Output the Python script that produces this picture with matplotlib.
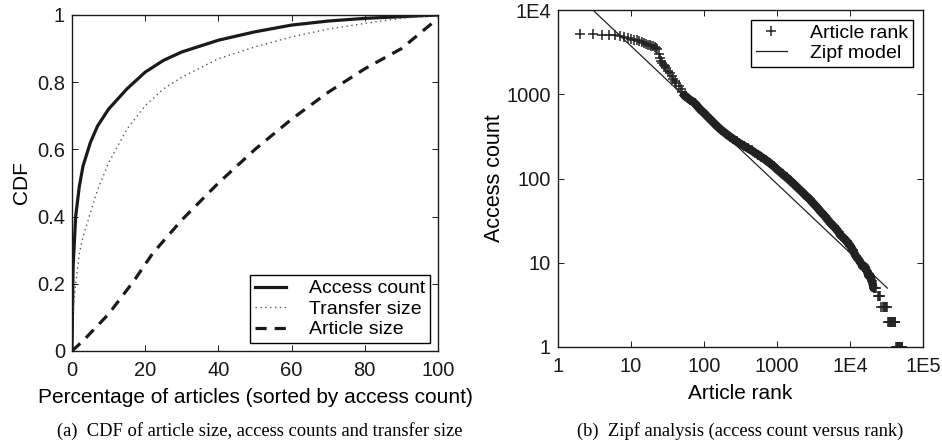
import matplotlib.pyplot as plt
import matplotlib.ticker as mticker

plt.rcParams['font.family'] = ['Liberation Sans', 'DejaVu Sans']

# --- panel (a): CDF curves ---
pct = [0, 0.3, 1, 2, 3, 5, 7, 10, 15, 20, 25, 30, 40, 50, 60, 70, 80, 90, 100]
access_cdf = [0, 0.25, 0.40, 0.49, 0.55, 0.62, 0.67, 0.72, 0.78, 0.83, 0.865, 0.89, 0.925, 0.95, 0.97, 0.982, 0.99, 0.995, 1.0]
transfer_cdf = [0, 0.12, 0.20, 0.29, 0.34, 0.41, 0.48, 0.56, 0.66, 0.73, 0.78, 0.815, 0.87, 0.905, 0.935, 0.958, 0.975, 0.99, 1.0]
article_pct = [0, 3, 10, 17, 22, 30, 40, 50, 60, 70, 80, 90, 100]
article_cdf = [0, 0.03, 0.11, 0.21, 0.29, 0.39, 0.50, 0.60, 0.69, 0.77, 0.84, 0.90, 0.99]

# --- panel (b): access count versus rank ---
head_ranks = [2, 3, 4, 5, 6, 7, 8, 9, 10, 11, 12, 13, 14, 15, 16, 17, 18, 19, 20, 21, 22, 23]
head_counts = [5200, 5150, 5100, 5050, 5000, 4900, 4750, 4650, 4550, 4450, 4350, 4250, 4150,
               4050, 3950, 3850, 3800, 3750, 3700, 3650, 3550, 3450]
steep_ranks = [24, 25, 26, 27, 28, 29, 30, 32, 34, 36, 38, 40, 42, 45, 48, 50, 55, 60, 65, 70, 75, 80, 90]
steep_counts = [3000, 2700, 2500, 2350, 2250, 2150, 2050, 1900, 1800, 1650, 1500, 1450, 1350,
                1250, 1150, 1050, 950, 900, 850, 820, 780, 730, 650]
body_ranks = [100, 110, 120, 135, 150, 170, 200, 230, 250, 280,
              300, 350, 400, 450, 500, 550, 600, 700, 800, 900,
              1000, 1100, 1200, 1350, 1500, 1700, 2000, 2300, 2500, 2800,
              3000, 3500, 4000, 4500, 5000, 5500, 6000, 6500, 7000, 7500,
              8000, 9000, 10000, 11000, 12000, 13000, 14000, 15000, 16000, 17000,
              18000, 19000, 20000]
body_counts = [600, 550, 510, 460, 420, 380, 340, 310, 295, 275,
               265, 245, 228, 215, 202, 192, 182, 166, 152, 140,
               128, 120, 112, 103, 95, 86, 75, 67, 62, 57,
               53, 46, 40, 36, 32, 29, 27, 25, 23, 21,
               20, 18, 16, 14, 12, 11, 10, 9, 9, 8,
               7, 7, 6]
tail_ranks = [21000, 22000, 23000, 24000, 25000, 26000, 27000, 28000, 29000, 30000, 31000,
              32000, 33000, 34000, 35000, 36000, 37000, 38000, 39000, 40000, 41000, 42000,
              43000, 44000, 45000, 46000, 47000, 48000, 49000, 50000, 51000, 52000]
tail_counts = [5, 5, 5, 4, 4, 4, 3, 3, 3, 3, 3,
               3, 2, 2, 2, 2, 2, 2, 2, 2, 2, 2,
               1, 1, 1, 1, 1, 1, 1, 1, 1, 1]
zipf_rank = [3, 32500]
zipf_count = [10000, 5.0]

ranks = head_ranks + steep_ranks + body_ranks + tail_ranks
counts = head_counts + steep_counts + body_counts + tail_counts

fig = plt.figure(figsize=(9.42, 4.47), dpi=100)
ax1 = fig.add_axes([72 / 942, 1 - 351 / 447, 366 / 942, 336 / 447])
ax2 = fig.add_axes([558 / 942, 1 - 347 / 447, 365 / 942, 337 / 447])

ax1.plot(pct, access_cdf, color='#1a1a1a', lw=2.3, label='Access count')
ax1.plot(pct, transfer_cdf, color='#555555', lw=1.0, ls=(0, (1, 2.5)), label='Transfer size')
ax1.plot(article_pct, article_cdf, color='#1a1a1a', lw=2.3, ls=(0, (3.5, 2.5)), label='Article size')
ax1.set_xlim(0, 100)
ax1.set_ylim(0, 1)
ax1.set_xticks([0, 20, 40, 60, 80, 100])
ax1.set_yticks([0, 0.2, 0.4, 0.6, 0.8, 1])
ax1.set_yticklabels(['0', '0.2', '0.4', '0.6', '0.8', '1'])
ax1.set_xlabel('Percentage of articles (sorted by access count)', fontsize=15, labelpad=6)
ax1.set_ylabel('CDF', fontsize=15, labelpad=4)
leg1 = ax1.legend(loc='lower right', fontsize=14, fancybox=False, framealpha=1,
                  edgecolor='black', handlelength=1.6, borderpad=0.25, labelspacing=0.15,
                  borderaxespad=0.4, handletextpad=1.2)
leg1.get_frame().set_linewidth(1.0)

# thick trace under the markers where the points merge into one band
ax2.plot(ranks[37:100], counts[37:100], color='#222222', lw=6, solid_capstyle='butt')
ax2.plot(ranks, counts, ls='none', marker='+', ms=7.5, mew=1.1, color='#222222', label='Article rank')
ax2.plot(zipf_rank, zipf_count, color='#222222', lw=0.9, label='Zipf model')
ax2.set_xscale('log')
ax2.set_yscale('log')
ax2.set_xlim(1, 1e5)
ax2.set_ylim(1, 1e4)
ax2.xaxis.set_major_locator(mticker.FixedLocator([1, 10, 100, 1000, 1e4, 1e5]))
ax2.yaxis.set_major_locator(mticker.FixedLocator([1, 10, 100, 1000, 1e4]))
ax2.xaxis.set_minor_locator(mticker.NullLocator())
ax2.yaxis.set_minor_locator(mticker.NullLocator())
ax2.set_xticklabels(['1', '10', '100', '1000', '1E4', '1E5'])
ax2.set_yticklabels(['1', '10', '100', '1000', '1E4'])
ax2.set_xlabel('Article rank', fontsize=15, labelpad=6)
ax2.set_ylabel('Access count', fontsize=15.5, labelpad=1)
leg2 = ax2.legend(loc='upper right', fontsize=14, fancybox=False, framealpha=1,
                  edgecolor='black', handlelength=1.6, borderpad=0.25, labelspacing=0.12,
                  borderaxespad=0.5, handletextpad=1.2)
leg2.get_frame().set_linewidth(1.0)

for ax in (ax1, ax2):
    ax.tick_params(direction='in', top=True, right=True, labelsize=14.5, length=4,
                   width=0.7, pad=5, colors='#1a1a1a')
    ax.tick_params(axis='x', pad=7)
    for s in ax.spines.values():
        s.set_linewidth(1.0)
        s.set_color('#1a1a1a')

fig.text(260 / 942, 1 - 431 / 447, '(a)  CDF of article size, access counts and transfer size',
         ha='center', va='center', fontsize=13.3, family='Liberation Serif')
fig.text(740 / 942, 1 - 431 / 447, '(b)  Zipf analysis (access count versus rank)',
         ha='center', va='center', fontsize=13.3, family='Liberation Serif')

fig.savefig('out.png', dpi=100)
